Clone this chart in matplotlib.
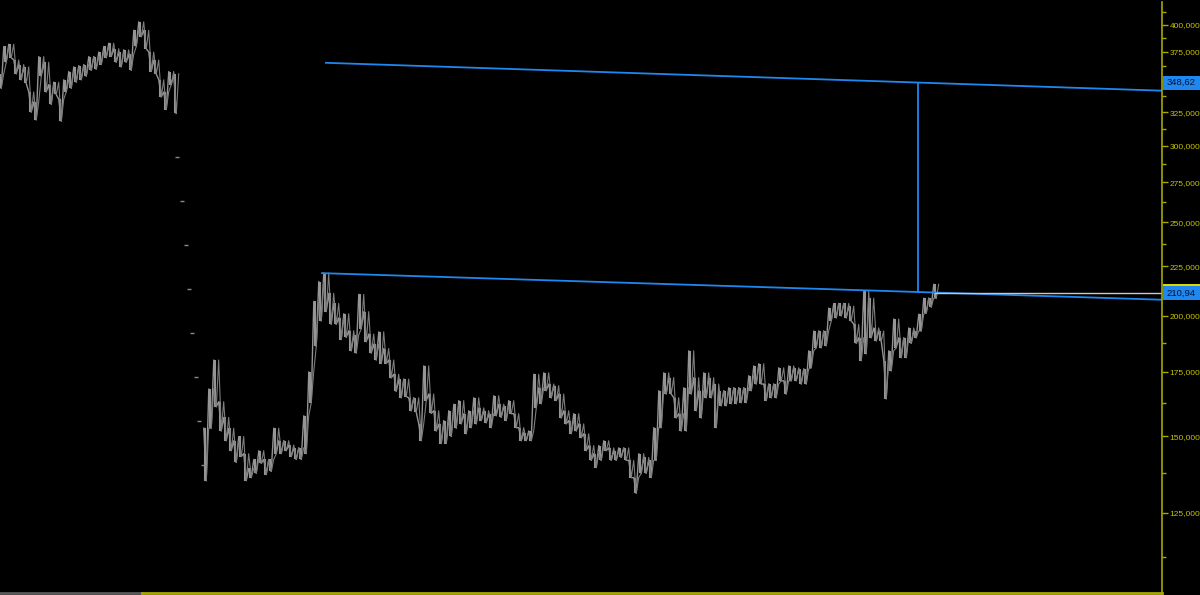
import numpy as np
import matplotlib
matplotlib.use("Agg")
import matplotlib.pyplot as plt
from matplotlib.ticker import FixedLocator, FuncFormatter
from matplotlib.patches import Rectangle
from matplotlib.transforms import IdentityTransform

# price data in thousands, one bar every 5 days
left_start = 0
left_hi = [356, 380, 382, 368, 364, 362, 341, 333, 371, 366,
           347, 349, 335, 351, 358, 362, 363, 364, 371, 371,
           375, 380, 383, 378, 375, 377, 373, 395, 403, 395,
           375, 368, 351, 341, 358, 356]
left_lo = [344, 366, 370, 356, 351, 348, 325, 319, 354, 341,
           331, 339, 318, 341, 344, 349, 351, 354, 359, 360,
           364, 370, 371, 366, 362, 366, 359, 380, 389, 378,
           358, 356, 337, 327, 347, 324]

# thin single-price prints in the gap
gap_days = [177, 182, 186, 189, 192, 196, 199, 203]
gap_vals = [291.7, 262.7, 236.6, 213.0, 191.9, 172.8, 155.7, 140.2]

main_start = 205
main_hi = [153, 168, 180, 163, 157, 153, 148.5, 150, 144, 139,
           142, 145, 142, 142, 153, 148.5, 148.5, 147, 146, 146,
           157.6, 175, 207, 217, 221.5, 211, 206, 199, 201, 193,
           191, 210.5, 202, 191.5, 187, 192.5, 185, 180, 174, 172,
           172, 164.5, 164.5, 154.5, 177.5, 166, 159.5, 154.5, 155.8, 159.5,
           162, 163.4, 158.4, 159.5, 164.5, 160.6, 159.5, 158.4, 165.3, 162,
           161.4, 163.4, 158.4, 153.2, 151.4, 152, 174, 168.5, 174.6, 170,
           169.3, 166, 159.5, 155.8, 158.4, 154.6, 151, 146.8, 144, 146.8,
           148.5, 146, 145, 146, 146, 141.7, 136, 144, 142.7, 141.7,
           153.2, 167.3, 174.6, 172.6, 164.5, 158.4, 168.5, 184, 172.6, 167.3,
           174.6, 172.6, 170, 167.3, 167.3, 168.5, 168.5, 168.5, 168.5, 173.4,
           177.5, 178.4, 170, 170, 170, 176.7, 171.3, 177.5, 176.7, 176.2,
           176.2, 184, 192.9, 192.9, 192.9, 203.7, 206, 206, 206, 204.7,
           196, 189.8, 212.2, 208.6, 194.3, 192.9, 179.7, 184, 198.5, 189.8,
           189.8, 194.3, 192.9, 200.8, 208.6, 208.6, 215.6]
main_lo = [135, 153, 161, 152, 148.5, 145, 141, 143, 135, 136,
           137.4, 140.7, 137, 138, 144, 144, 145, 143, 142, 142,
           144, 162.6, 186, 197.6, 202, 196, 196, 189, 190, 184,
           183, 194, 188, 183, 180, 178.5, 178.5, 172.5, 167, 164.5,
           165, 159.5, 159, 148.5, 163.4, 158.5, 152, 147.5, 147.5, 150,
           153, 154.6, 151, 153.2, 154.6, 155.8, 155, 153.2, 157.6, 157,
           155.8, 158.4, 153.2, 148.5, 148.5, 148.5, 160.6, 162.2, 167.3, 164.5,
           163.4, 156.8, 154.6, 151, 152, 149.6, 145, 141.7, 139.3, 141.7,
           145, 141.7, 141.7, 142.7, 141.7, 136, 131, 137.4, 137.4, 136,
           141.7, 153.2, 166, 166, 156.8, 152, 152, 166, 159.5, 156.8,
           164.5, 164.5, 153.2, 161.4, 161.4, 162.2, 162.2, 162.6, 162.6, 167.3,
           170, 170, 163.4, 164.5, 164.5, 171.3, 166, 171.3, 171.3, 170,
           170, 176.7, 185.3, 185.3, 186.2, 197.6, 199, 200, 199, 197.6,
           187.3, 179.7, 182.7, 189.8, 188.4, 188.4, 164.1, 175.4, 185.3, 181,
           181, 187.3, 189.8, 192.9, 201.3, 204.2, 208.6]

last_price = 210.94
target_label = "348,62"
last_label = "210,94"

# drawn trendlines (day, price)
upper_line = [(326, 365.5), (1162, 342.0)]
lower_line = [(322, 221.4), (1162, 207.8)]
measure_day = 918

bg = "#000000"
bar_color = "#959595"
blue = "#1e88f0"
axis_yellow = "#a8a800"
label_yellow = "#c4c400"

plt.rcParams["font.family"] = ["Liberation Sans", "DejaVu Sans"]

fig = plt.figure(figsize=(12, 5.95), dpi=100, facecolor=bg)
ax = fig.add_axes([0, 2 / 595, 1162 / 1200, 591 / 595], facecolor=bg)

# price bars: vertical high-low ticks plus a zigzag between them
for start, hi, lo in [(left_start, left_hi, left_lo), (main_start, main_hi, main_lo)]:
    days = start + 5 * np.arange(len(hi))
    hi = np.array(hi)
    lo = np.array(lo)
    ax.vlines(days, lo, hi, color=bar_color, lw=1.5)
    zx = np.column_stack([days - 1.2, days + 1.2]).ravel()
    zy = np.column_stack([hi, lo]).ravel()
    ax.plot(zx, zy, color=bar_color, lw=1.0)
    zy2 = np.column_stack([lo, hi]).ravel()
    ax.plot(zx + 2.5, zy2, color="#7d7d7d", lw=0.8)

ax.plot(gap_days, gap_vals, "_", color="#8a8a8a", ms=3, mew=1)

# trendlines
def line_at(line, day):
    (d0, p0), (d1, p1) = line
    t = (day - d0) / (d1 - d0)
    return np.exp(np.log(p0) + t * (np.log(p1) - np.log(p0)))

for line in [upper_line, lower_line]:
    ax.plot([p[0] for p in line], [p[1] for p in line], color=blue, lw=1.3)
ax.plot([measure_day, measure_day],
        [line_at(lower_line, measure_day), line_at(upper_line, measure_day)],
        color=blue, lw=1.3)

# last price line
ax.plot([main_start + 5 * (len(main_hi) - 1), 1162], [last_price, last_price],
        color="#c8c8c8", lw=1)

ax.set_yscale("log")
ax.set_xlim(0, 1162)
ax.set_ylim(103.3, 422.5)

# 350,000 sits under the target tag, so it is left blank
def price_fmt(v, p):
    if abs(v - 350) < 1:
        return ""
    return f"{v * 1000:,.0f}"

ax.yaxis.tick_right()
ax.yaxis.set_major_locator(FixedLocator(np.arange(125, 426, 25)))
ax.yaxis.set_minor_locator(FixedLocator(np.arange(112.5, 426, 25)))
ax.yaxis.set_major_formatter(FuncFormatter(price_fmt))
ax.yaxis.set_minor_formatter(FuncFormatter(lambda v, p: ""))
ax.tick_params(axis="y", which="major", colors=axis_yellow, labelcolor=label_yellow,
               labelsize=6.0, length=4, width=1, pad=1.5)
ax.tick_params(axis="y", which="minor", colors=axis_yellow, length=3, width=1)
ax.set_xticks([])

for side in ["top", "left", "bottom"]:
    ax.spines[side].set_visible(False)
ax.spines["right"].set_color(axis_yellow)
ax.spines["right"].set_linewidth(1.2)

# bottom line: grey then yellow
ax.plot([0, 142 / 1162], [0, 0], transform=ax.transAxes, color="#5a5a5a", lw=2, clip_on=False)
ax.plot([142 / 1162, 1], [0, 0], transform=ax.transAxes, color=axis_yellow, lw=2, clip_on=False)

# value tags on the price scale, drawn over the tick labels
fig.canvas.draw()
for value, text, mark in [(line_at(upper_line, measure_day), target_label, False),
                          (last_price, last_label, True)]:
    ypx = ax.transData.transform((0, value))[1]
    fig.patches.append(Rectangle((1163, ypx - 7), 37, 14, transform=IdentityTransform(),
                                 fc=blue, ec="none", zorder=10))
    if mark:
        fig.patches.append(Rectangle((1163, ypx + 7), 37, 2, transform=IdentityTransform(),
                                     fc="#d8d800", ec="none", zorder=10))
    fig.text(1181 / 1200, ypx / 595, text, ha="center", va="center",
             fontsize=6.8, color="#06122e", zorder=11)

fig.savefig("out.png", dpi=100, facecolor=bg)
